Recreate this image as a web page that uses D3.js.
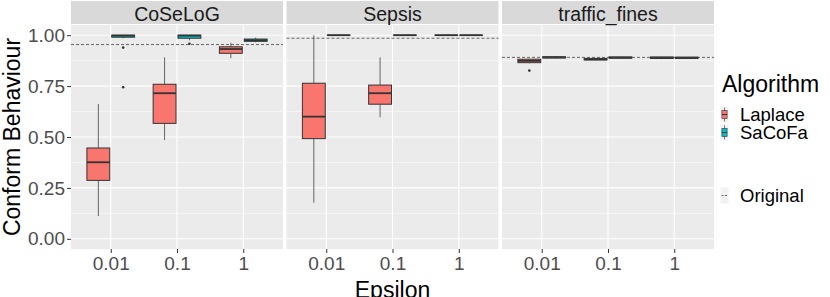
<!DOCTYPE html>
<html>
<head>
<meta charset="utf-8">
<script src="https://cdn.jsdelivr.net/npm/d3@7"></script>
<style>
body { margin: 0; background: #fff; }
svg text { font-family: "Liberation Sans", Arial, Helvetica, sans-serif; }
</style>
</head>
<body>
<div id="chart"></div>
<script>
// data
var datasets = ["CoSeLoG", "Sepsis", "traffic_fines"];
var epsilons = ["0.01", "0.1", "1"];
var algorithms = ["Laplace", "SaCoFa"];
var colors = ["#F8766D", "#00BFC4"];
var originalValues = [0.954, 0.985, 0.891];
var yTicks = [0, 0.25, 0.5, 0.75, 1];

// boxes, ordered dataset > epsilon > algorithm
var boxDataset = ["CoSeLoG","CoSeLoG","CoSeLoG","CoSeLoG","CoSeLoG","CoSeLoG",
                  "Sepsis","Sepsis","Sepsis","Sepsis","Sepsis","Sepsis",
                  "traffic_fines","traffic_fines","traffic_fines","traffic_fines","traffic_fines","traffic_fines"];
var boxEps = ["0.01","0.01","0.1","0.1","1","1",
              "0.01","0.01","0.1","0.1","1","1",
              "0.01","0.01","0.1","0.1","1","1"];
var boxAlgo = ["Laplace","SaCoFa","Laplace","SaCoFa","Laplace","SaCoFa",
               "Laplace","SaCoFa","Laplace","SaCoFa","Laplace","SaCoFa",
               "Laplace","SaCoFa","Laplace","SaCoFa","Laplace","SaCoFa"];
var whiskLow = [0.112, 0.985, 0.485, 0.975, 0.887, 0.965,
                0.177, 1, 0.597, 1, 1, 1,
                0.862, 0.887, 0.877, 0.886, 0.885, 0.885];
var q1 =       [0.287, 0.990, 0.567, 0.985, 0.911, 0.970,
                0.492, 1, 0.661, 1, 1, 1,
                0.865, 0.888, 0.878, 0.887, 0.886, 0.886];
var medians =  [0.376, 0.998, 0.715, 0.998, 0.932, 0.975,
                0.600, 1, 0.715, 1, 1, 1,
                0.874, 0.891, 0.882, 0.890, 0.889, 0.889];
var q3 =       [0.446, 1.0, 0.759, 1.0, 0.943, 0.981,
                0.764, 1, 0.755, 1, 1, 1,
                0.882, 0.894, 0.886, 0.893, 0.893, 0.892];
var whiskHigh =[0.662, 1.0, 0.891, 1.0, 0.963, 0.988,
                1.0, 1, 0.891, 1, 1, 1,
                0.884, 0.895, 0.887, 0.894, 0.894, 0.893];

var outDataset = ["CoSeLoG", "CoSeLoG", "CoSeLoG", "traffic_fines"];
var outEps = ["0.01", "0.01", "0.1", "0.01"];
var outAlgo = ["SaCoFa", "SaCoFa", "SaCoFa", "Laplace"];
var outValues = [0.939, 0.744, 0.958, 0.826];

var width = 830, height = 297;
var panelTop = 25, panelBottom = 249;

var svg = d3.select("#chart")
    .append("svg")
    .attr("width", width)
    .attr("height", height);

var facetX = d3.scaleBand()
    .domain(datasets)
    .range([71, 714])
    .paddingInner(0.0162);

var bw = facetX.bandwidth();

var xPoint = d3.scalePoint()
    .domain(epsilons)
    .range([0, bw])
    .padding(0.6);

var step = xPoint.step();

var yScale = d3.scaleLinear()
    .domain([-0.05, 1.05])
    .range([panelBottom, panelTop]);

var colorScale = d3.scaleOrdinal().domain(algorithms).range(colors);

function algoOffset(a) {
    return a === "Laplace" ? -0.1875 * step : 0.1875 * step;
}
var boxW = 0.345 * step;

datasets.forEach(function(ds, di) {
    var g = svg.append("g")
        .attr("transform", "translate(" + facetX(ds) + ",0)");

    // panel background
    g.append("rect")
        .attr("x", 0).attr("y", panelTop)
        .attr("width", bw).attr("height", panelBottom - panelTop)
        .attr("fill", "#EBEBEB");

    // minor grid
    [0.125, 0.375, 0.625, 0.875].forEach(function(v) {
        g.append("line")
            .attr("x1", 0).attr("x2", bw)
            .attr("y1", yScale(v)).attr("y2", yScale(v))
            .attr("stroke", "#fff").attr("stroke-width", 0.55);
    });
    // major grid
    yTicks.forEach(function(v) {
        g.append("line")
            .attr("x1", 0).attr("x2", bw)
            .attr("y1", yScale(v)).attr("y2", yScale(v))
            .attr("stroke", "#fff").attr("stroke-width", 1.1);
    });
    epsilons.forEach(function(e) {
        g.append("line")
            .attr("x1", xPoint(e)).attr("x2", xPoint(e))
            .attr("y1", panelTop).attr("y2", panelBottom)
            .attr("stroke", "#fff").attr("stroke-width", 1.1);
    });

    // strip
    g.append("rect")
        .attr("x", 0).attr("y", 1)
        .attr("width", bw).attr("height", 23)
        .attr("fill", "#D9D9D9");
    g.append("text")
        .attr("x", bw / 2).attr("y", 20.5)
        .attr("text-anchor", "middle")
        .attr("font-size", 19.5)
        .attr("fill", "#1A1A1A")
        .text(ds);

    // x axis
    var xAxis = d3.axisBottom(xPoint).tickSize(4).tickPadding(4);
    var ax = g.append("g")
        .attr("transform", "translate(0," + panelBottom + ")")
        .call(xAxis);
    ax.select(".domain").remove();
    ax.selectAll(".tick line").attr("stroke", "#333");
    ax.selectAll(".tick text")
        .attr("font-size", 19)
        .attr("fill", "#4D4D4D")
        .attr("dy", "0.71em");

    // boxes
    for (var i = 0; i < boxDataset.length; i++) {
        if (boxDataset[i] !== ds) continue;
        var cx = xPoint(boxEps[i]) + algoOffset(boxAlgo[i]);
        var bg = g.append("g");
        bg.append("line")
            .attr("x1", cx).attr("x2", cx)
            .attr("y1", yScale(whiskHigh[i])).attr("y2", yScale(q3[i]))
            .attr("stroke", "#555").attr("stroke-width", 0.9);
        bg.append("line")
            .attr("x1", cx).attr("x2", cx)
            .attr("y1", yScale(q1[i])).attr("y2", yScale(whiskLow[i]))
            .attr("stroke", "#555").attr("stroke-width", 0.9);
        bg.append("rect")
            .attr("x", cx - boxW / 2)
            .attr("y", yScale(q3[i]))
            .attr("width", boxW)
            .attr("height", Math.max(0.01, yScale(q1[i]) - yScale(q3[i])))
            .attr("fill", colorScale(boxAlgo[i]))
            .attr("stroke", "#333").attr("stroke-width", 1);
        bg.append("line")
            .attr("x1", cx - boxW / 2).attr("x2", cx + boxW / 2)
            .attr("y1", yScale(medians[i])).attr("y2", yScale(medians[i]))
            .attr("stroke", "#333").attr("stroke-width", 1.8);
    }

    // outliers
    for (var j = 0; j < outDataset.length; j++) {
        if (outDataset[j] !== ds) continue;
        g.append("circle")
            .attr("cx", xPoint(outEps[j]) + algoOffset(outAlgo[j]))
            .attr("cy", yScale(outValues[j]))
            .attr("r", 1.3)
            .attr("fill", "#333");
    }

    // original reference line
    g.append("line")
        .attr("x1", 0).attr("x2", bw)
        .attr("y1", yScale(originalValues[di])).attr("y2", yScale(originalValues[di]))
        .attr("stroke", "#444").attr("stroke-width", 0.8)
        .attr("stroke-dasharray", "3,2");
});

// y axis
var yAxis = d3.axisLeft(yScale)
    .tickValues(yTicks)
    .tickFormat(d3.format(".2f"))
    .tickSize(4)
    .tickPadding(2);
var yax = svg.append("g")
    .attr("transform", "translate(71,0)")
    .call(yAxis);
yax.select(".domain").remove();
yax.selectAll(".tick line").attr("stroke", "#333");
yax.selectAll(".tick text")
    .attr("font-size", 19)
    .attr("fill", "#4D4D4D");

// axis titles
svg.append("text")
    .attr("transform", "translate(20," + ((panelTop + panelBottom) / 2) + ")rotate(-90)")
    .attr("text-anchor", "middle")
    .attr("font-size", 23)
    .attr("fill", "#000")
    .text("Conform Behaviour");

svg.append("text")
    .attr("x", (71 + 714) / 2)
    .attr("y", 298)
    .attr("text-anchor", "middle")
    .attr("font-size", 23)
    .attr("fill", "#000")
    .text("Epsilon");

// legend
var legend = svg.append("g").attr("class", "legend");
legend.append("text")
    .attr("x", 722).attr("y", 92)
    .attr("font-size", 23)
    .attr("fill", "#000")
    .text("Algorithm");

algorithms.forEach(function(a, i) {
    var cy = 114.5 + i * 18;
    var kx = 724.5;
    legend.append("rect")
        .attr("x", 720.5).attr("y", cy - 8)
        .attr("width", 8).attr("height", 16)
        .attr("fill", "#F2F2F2");
    legend.append("line")
        .attr("x1", kx).attr("x2", kx)
        .attr("y1", cy - 7).attr("y2", cy + 7)
        .attr("stroke", "#555").attr("stroke-width", 0.8);
    legend.append("rect")
        .attr("x", kx - 2.6).attr("y", cy - 4)
        .attr("width", 5.2).attr("height", 8)
        .attr("fill", colorScale(a))
        .attr("stroke", "#333").attr("stroke-width", 0.6);
    legend.append("line")
        .attr("x1", kx - 2.6).attr("x2", kx + 2.6)
        .attr("y1", cy).attr("y2", cy)
        .attr("stroke", "#333").attr("stroke-width", 1);
    legend.append("text")
        .attr("x", 740).attr("y", cy + 6.5)
        .attr("font-size", 18.5)
        .attr("fill", "#000")
        .text(a);
});

legend.append("rect")
    .attr("x", 720.5).attr("y", 187.5)
    .attr("width", 8).attr("height", 16)
    .attr("fill", "#F2F2F2");
legend.append("line")
    .attr("x1", 721.5).attr("x2", 727.5)
    .attr("y1", 195.5).attr("y2", 195.5)
    .attr("stroke", "#444").attr("stroke-width", 0.8)
    .attr("stroke-dasharray", "2,1.5");
legend.append("text")
    .attr("x", 740).attr("y", 201.5)
    .attr("font-size", 18.5)
    .attr("fill", "#000")
    .text("Original");
</script>
</body>
</html>
